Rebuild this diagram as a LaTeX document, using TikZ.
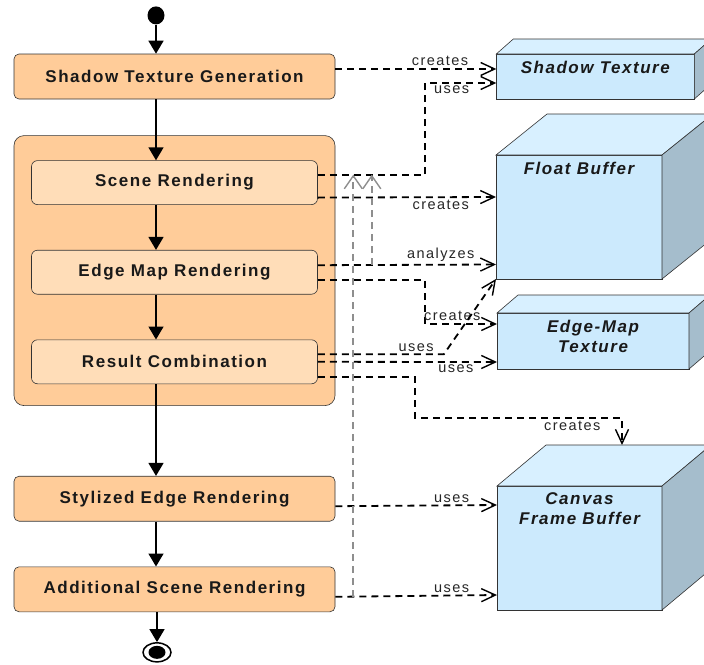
\documentclass[tikz,border=0pt]{standalone}
\usepackage{fontspec}
\setmainfont{Liberation Sans}
\newfontfamily\actfont[LetterSpace=9]{Liberation Sans}
\newfontfamily\relfont[LetterSpace=10]{Liberation Sans}
\usetikzlibrary{arrows.meta,positioning,calc,shapes.geometric}

\definecolor{actfill}{HTML}{FFCC99}
\definecolor{subfill}{HTML}{FFDDB8}
\definecolor{bufront}{HTML}{CCEAFD}
\definecolor{butop}{HTML}{D8F0FF}
\definecolor{buside}{HTML}{A5BDCC}
\definecolor{outline}{HTML}{333333}
\definecolor{hookgray}{HTML}{8E8E8E}

% top and side faces of a buffer block: name, depth x, depth y
\newcommand\bufferfaces[3]{%
  \coordinate (#1-back) at ($(#1.north west)+(#2,-#3)$);
  \filldraw[fill=butop,draw=outline] (#1.north west) -- (#1-back) -- ($(#1.north east)+(#2,-#3)$) -- (#1.north east) -- cycle;
  \filldraw[fill=buside,draw=outline] (#1.north east) -- ($(#1.north east)+(#2,-#3)$) -- ($(#1.south east)+(#2,-#3)$) -- (#1.south east) -- cycle;
}

\begin{document}
\begin{tikzpicture}[x=1pt, y=-1pt, semithick]
    \tikzstyle{activity}=[rectangle, rounded corners=5pt, draw=outline, fill=actfill, minimum width=321pt, minimum height=45pt, text=black!90, font=\actfont\bfseries\fontsize{17}{20}\selectfont]
    \tikzstyle{subactivity}=[activity, fill=subfill, minimum width=286pt, minimum height=44pt, rounded corners=6pt]
    \tikzstyle{group}=[rectangle, rounded corners=10pt, draw=outline, fill=actfill, minimum width=321pt, minimum height=270pt]
    \tikzstyle{buffer}=[rectangle, draw=outline, fill=bufront, outer sep=0pt]
    \tikzstyle{buftext}=[anchor=north, inner sep=6.5pt, align=center, text=black!90, font=\actfont\bfseries\itshape\fontsize{17}{20}\selectfont]
    \tikzstyle{flow}=[line width=1.5pt, -{Triangle[width=15pt,length=13pt]}]
    \tikzstyle{dep}=[line width=1.8pt, dash pattern=on 7pt off 5pt, -{Straight Barb[length=14pt,width=13pt,line width=1.4pt]}]
    \tikzstyle{hook}=[dep, draw=hookgray, -{Straight Barb[length=13pt,width=18pt,line width=1.4pt]}]
    \tikzstyle{deplabel}=[inner sep=2pt, text=black!85, font=\relfont\fontsize{14.5}{16}\selectfont]

    \useasboundingbox (0,0) rectangle (704,664);
    \clip (0,0) rectangle (704,664);

    % activities
    \node[activity] (shadowgen) at (174.5,76.5) {Shadow Texture Generation};
    \node[ellipse, fill=black, minimum width=17pt, minimum height=18pt, inner sep=0pt, above=29pt of shadowgen, xshift=-18.5pt] (start) {};
    \node[group, below=36pt of shadowgen] (pass) {}; % edge pass
    \node[subactivity, below=25pt of pass.north] (scene) {Scene Rendering};
    \node[subactivity, below=45pt of scene] (edgemap) {Edge Map Rendering};
    \node[subactivity, below=45pt of edgemap] (combine) {Result Combination};
    \node[activity, below=70pt of pass] (stylized) {Stylized Edge Rendering};
    \node[activity, below=45pt of stylized] (additional) {Additional Scene Rendering};
    \node[ellipse, draw=black, fill=white, line width=1.5pt, minimum width=28pt, minimum height=19pt, below=30pt of additional, xshift=-17.5pt] (finish) {};
    \fill (finish.center) ellipse (8.5pt and 6.5pt); % final state dot

    % buffers
    \node[buffer, minimum width=198pt, minimum height=45pt, right=161pt of shadowgen, label={[buftext]north:Shadow Texture}] (shadowtex) {};
    \node[buffer, minimum width=166pt, minimum height=124pt, label={[buftext]north:Float Buffer}] (floatbuf) at (579,217) {};
    \node[buffer, minimum width=192pt, minimum height=56pt, label={[buftext]north:{Edge-Map\\Texture}}] (edgetex) at (593,341) {};
    \node[buffer, minimum width=165pt, minimum height=124pt, below=207pt of floatbuf, xshift=0.5pt, label={[buftext]north:{Canvas\\Frame Buffer}}] (canvasbuf) {};
    \bufferfaces{shadowtex}{17}{15}
    \bufferfaces{floatbuf}{51}{41}
    \bufferfaces{edgetex}{21}{18}
    \bufferfaces{canvasbuf}{49}{41}

    % control flow
    \draw[flow] (start) -- (start |- shadowgen.north);
    \draw[flow] (shadowgen.south -| start) -- (scene.north -| start);
    \draw[flow] (scene.south -| start) -- (edgemap.north -| start);
    \draw[flow] (edgemap.south -| start) -- (combine.north -| start);
    \draw[flow] (combine.south -| start) -- (stylized.north -| start);
    \draw[flow] (stylized.south -| start) -- (additional.north -| start);
    \draw[flow] (finish |- additional.south) -- (finish);

    % object flows
    \coordinate (scnA) at ($(scene.east)+(0,-8)$);
    \draw[dep] ($(shadowgen.east)+(0,-7.5)$) -- ($(shadowtex.west)+(0,-7.5)$) node[deplabel, above, pos=0.65] {creates};
    \draw[dep] (scnA) -| ($(shadowtex.west)+(-71,6.5)$) -- ($(shadowtex.west)+(0,6.5)$) node[deplabel, below, pos=0.37] {uses};
    \draw[dep] ($(scene.east)+(0,15)$) -- ($(floatbuf.west)+(0,-20)$) node[deplabel, below, pos=0.69] {creates};
    \draw[dep] ($(edgemap.east)+(0,-7)$) -- ($(floatbuf.west)+(0,47.5)$) node[deplabel, above, pos=0.69] {analyzes};
    \draw[dep] ($(edgemap.east)+(0,8)$) -| ($(edgetex.west)+(-72,-17)$) -- ($(edgetex.west)+(0,-17)$) node[deplabel, above, pos=0.38] {creates};
    \draw[dep] ($(combine.east)+(0,-7.5)$) -- node[deplabel, above, pos=0.78] {uses} ++(126,0) -- (floatbuf.south west);
    \draw[dep] (combine.east) -- ($(edgetex.west)+(0,21)$) node[deplabel, below, pos=0.77] {uses};
    \draw[dep] ($(combine.east)+(0,15.5)$) -| ($(combine.east)+(97,56)$) -| ([xshift=76pt]canvasbuf-back) node[deplabel, below, pos=0.38] {creates};
    \draw[dep] ($(stylized.east)+(0,7.5)$) -- ($(canvasbuf.west)+(0,-43)$) node[deplabel, above, pos=0.72] {uses};
    \draw[dep] ($(additional.east)+(0,7.5)$) -- ($(canvasbuf.west)+(0,47)$) node[deplabel, above, pos=0.72] {uses};

    % links back to the scene pass
    \coordinate (tapA) at ($(additional.east)+(18,7.5)$);
    \coordinate (tapB) at ($(edgemap.east)+(54,-7)$);
    \draw[hook] (tapA) -- (tapA |- scnA);
    \draw[hook] (tapB) -- (tapB |- scnA);
\end{tikzpicture}
\end{document}
